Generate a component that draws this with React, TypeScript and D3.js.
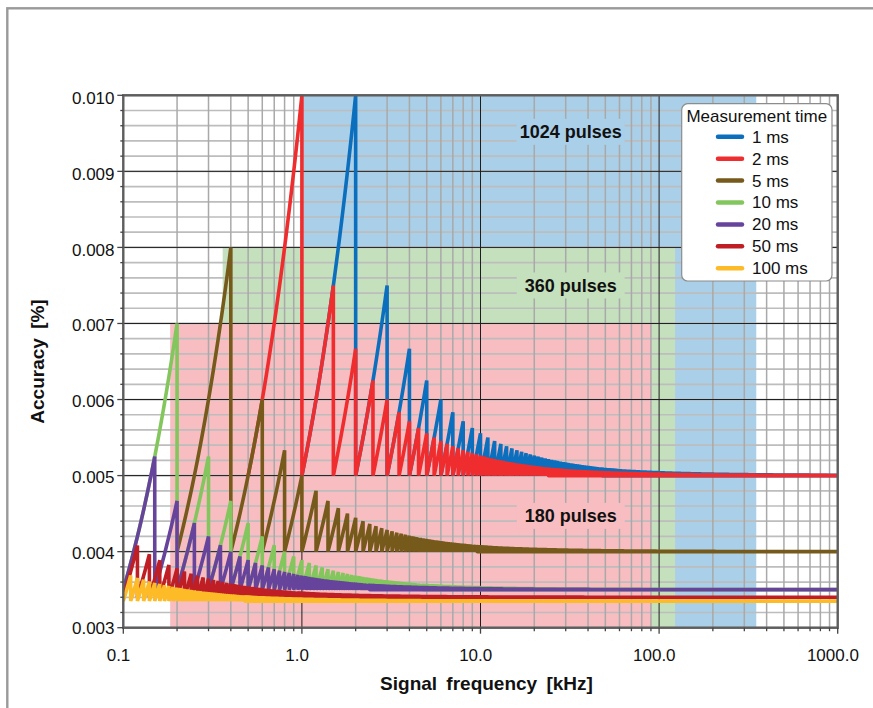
import React from 'react';
import * as d3 from 'd3';

// ---------- data ----------
const SERIES_NAMES = ['1 ms', '2 ms', '5 ms', '10 ms', '20 ms', '50 ms', '100 ms'];
const MEASUREMENT_TIME_MS = [1, 2, 5, 10, 20, 50, 100];
const BASE_ACCURACY = [0.005, 0.005, 0.004, 0.0035, 0.0035, 0.0034, 0.00335];
const START_FREQ_KHZ = [1.0, 0.5, 0.2, 0.1, 0.1, 0.1, 0.1];
const END_FREQ_KHZ = [1000, 1000, 1000, 1000, 1000, 1000, 1000];
const SERIES_COLORS = ['#0b6fbd', '#ef2d2f', '#765a1c', '#84c65e', '#66449c', '#c01e25', '#fcbb27'];

const REGION_NAMES = ['1024 pulses', '360 pulses', '180 pulses'];
const REGION_FREQ_FROM = [1.0, 0.36, 0.183];
const REGION_FREQ_TO = [350, 123, 91];
const REGION_ACC_TOP = [0.010, 0.008, 0.007];
const REGION_LABEL_FREQ = [32, 32, 32];
const REGION_LABEL_ACC = [0.00952, 0.0075, 0.00447];
const REGION_COLORS = ['#aacfe8', '#c4e0bd', '#f8bdc0'];

const X_TICKS = [0.1, 1, 10, 100, 1000];
const X_TICK_LABELS = ['0.1', '1.0', '10.0', '100.0', '1000.0'];
const Y_TICKS = [0.003, 0.004, 0.005, 0.006, 0.007, 0.008, 0.009, 0.010];
const Y_TICK_LABELS = ['0.003', '0.004', '0.005', '0.006', '0.007', '0.008', '0.009', '0.010'];

// ---------- layout ----------
const W = 873;
const H = 708;
const PL = 123.3, PR = 837.7, PT = 95.3, PB = 627.7;
const FONT = '"Liberation Sans", Arial, sans-serif';
const N_SWITCH = 60; // beyond this many periods the teeth merge into a band
const BAND_OVERLAP = 12;

const x = d3.scaleLog().domain([0.1, 1000]).range([PL, PR]);
const y = d3.scaleLinear().domain([0.003, 0.010]).range([PB, PT]);
const yLabel = d3.scaleLinear().domain([0.003, 0.010]).range([634.3, 104.3]);

// quantised-period accuracy: acc = base * fT / floor(fT)
function sawtooth(T: number, base: number, f0: number, f1: number) {
  const pts: [number, number][] = [];
  let n = Math.max(1, Math.floor(f0 * T + 1e-9));
  let f = f0;
  while (f < f1 - 1e-12 && n < N_SWITCH) {
    const fa = Math.max(n / T, f0);
    const fb = Math.min((n + 1) / T, f1);
    const k = Math.max(2, Math.ceil(30 / n));
    for (let i = 0; i <= k; i++) {
      const ff = fa + ((fb - fa) * i) / k;
      pts.push([ff, (base * ff * T) / n]);
    }
    if (fb < f1) pts.push([fb, base]);
    f = fb;
    n++;
  }
  const band: [number, number, number][] = [];
  if (f < f1) {
    const fs = Math.max(f0, (N_SWITCH - BAND_OVERLAP) / T);
    const steps = 220;
    const l0 = Math.log10(fs), l1 = Math.log10(f1);
    for (let i = 0; i <= steps; i++) {
      const ff = Math.pow(10, l0 + ((l1 - l0) * i) / steps);
      const p = ff * T;
      band.push([ff, base, base * (1 + 0.75 / (p - 1))]);
    }
  }
  return { pts, band };
}

const lineGen = d3
  .line<[number, number]>()
  .x((d) => x(d[0]))
  .y((d) => y(d[1]));
const areaGen = d3
  .area<[number, number, number]>()
  .x((d) => x(d[0]))
  .y0((d) => y(d[1]))
  .y1((d) => y(d[2]));

export default function App() {
  const series = MEASUREMENT_TIME_MS.map((T, i) => {
    const s = sawtooth(T, BASE_ACCURACY[i], START_FREQ_KHZ[i], END_FREQ_KHZ[i]);
    return { line: lineGen(s.pts) || '', area: s.band.length ? areaGen(s.band) || '' : '' };
  });

  const minorX: number[] = [];
  [0.1, 1, 10, 100].forEach((dec) => {
    for (let m = 2; m <= 9; m++) minorX.push(dec * m);
  });
  const minorY: number[] = [];
  for (let i = 0; i <= 35; i++) minorY.push(0.003 + i * 0.0002);

  const legendX = 681.7, legendY = 103.7, legendW = 150.3, legendH = 177.3;
  const rowY0 = 136.7, rowStep = 21.93;

  return (
    <svg
      width={W}
      height={H}
      style={{ position: 'absolute', left: 0, top: 0, background: '#fff' }}
      fontFamily={FONT}
    >
      <defs>
        <clipPath id="plotClip">
          <rect x={PL} y={PT} width={PR - PL} height={PB - PT} />
        </clipPath>
      </defs>
      {/* outer frame */}
      <rect x={7.3} y={8.3} width={900} height={760} fill="none" stroke="#9a9a9a" strokeWidth={2.4} />

      {/* regions */}
      {REGION_NAMES.map((nm, i) => (
        <rect
          key={'reg' + i}
          x={x(REGION_FREQ_FROM[i])}
          y={y(REGION_ACC_TOP[i])}
          width={x(REGION_FREQ_TO[i]) - x(REGION_FREQ_FROM[i])}
          height={y(0.003) - y(REGION_ACC_TOP[i])}
          fill={REGION_COLORS[i]}
        />
      ))}

      {/* minor grid */}
      {minorY.map((v, i) => (
        <line key={'my' + i} x1={PL} x2={PR} y1={y(v)} y2={y(v)} stroke="#bdbdbd" strokeWidth={1.7} />
      ))}
      {minorX.map((v, i) => (
        <line key={'mx' + i} x1={x(v)} x2={x(v)} y1={PT} y2={PB} stroke="#a9a9a9" strokeWidth={1.5} />
      ))}
      {/* major grid */}
      {Y_TICKS.map((v, i) => (
        <line key={'My' + i} x1={PL} x2={PR} y1={y(v)} y2={y(v)} stroke="#1e1e1e" strokeWidth={1} />
      ))}
      {X_TICKS.map((v, i) => (
        <line key={'Mx' + i} x1={x(v)} x2={x(v)} y1={PT} y2={PB} stroke="#1e1e1e" strokeWidth={1} />
      ))}

      {/* region labels */}
      {REGION_NAMES.map((nm, i) => {
        const cx = x(REGION_LABEL_FREQ[i]);
        const cy = y(REGION_LABEL_ACC[i]);
        return (
          <g key={'rl' + i}>
            <rect x={cx - 54} y={cy - 13} width={108} height={26} fill={REGION_COLORS[i]} />
            <text x={cx} y={cy + 6.3} textAnchor="middle" fontSize={18} fontWeight="bold" fill="#111">
              {nm}
            </text>
          </g>
        );
      })}

      {/* curves */}
      <g clipPath="url(#plotClip)">
        {series.map((s, i) => (
          <g key={'s' + i}>
            <path
              d={s.line}
              fill="none"
              stroke={SERIES_COLORS[i]}
              strokeWidth={3.6}
              strokeLinejoin="miter"
              strokeMiterlimit={3}
            />
            {s.area && (
              <path
                d={s.area}
                fill={SERIES_COLORS[i]}
                stroke={SERIES_COLORS[i]}
                strokeWidth={3.6}
                strokeLinejoin="round"
              />
            )}
          </g>
        ))}
      </g>

      {/* plot border */}
      <rect x={PL} y={PT} width={PR - PL} height={PB - PT} fill="none" stroke="#5e5e5e" strokeWidth={2.4} />

      {/* y ticks */}
      {minorY.map((v, i) => (
        <line key={'yt' + i} x1={PL - (i % 5 === 0 ? 6 : 3)} x2={PL} y1={y(v)} y2={y(v)} stroke="#444" strokeWidth={1.3} />
      ))}
      {Y_TICKS.map((v, i) => (
        <text key={'yl' + i} x={114.5} y={yLabel(v)} textAnchor="end" fontSize={17} fill="#111">
          {Y_TICK_LABELS[i]}
        </text>
      ))}
      {/* x ticks */}
      {minorX.map((v, i) => (
        <line key={'xt' + i} x1={x(v)} x2={x(v)} y1={PB} y2={PB + 3.5} stroke="#444" strokeWidth={1.3} />
      ))}
      {X_TICKS.map((v, i) => (
        <line key={'xT' + i} x1={x(v)} x2={x(v)} y1={PB} y2={PB + 6} stroke="#444" strokeWidth={1.3} />
      ))}
      {X_TICKS.map((v, i) => (
        <text key={'xl' + i} x={x(v) - 4.8} y={661} textAnchor="middle" fontSize={17} fill="#111">
          {X_TICK_LABELS[i]}
        </text>
      ))}

      {/* axis titles */}
      <text x={486.5} y={689.5} textAnchor="middle" fontSize={19} fontWeight="bold" wordSpacing={4} fill="#111">
        Signal frequency [kHz]
      </text>
      <text
        transform={`translate(43.5, ${(PT + PB) / 2}) rotate(-90)`}
        textAnchor="middle"
        fontSize={19}
        fontWeight="bold"
        wordSpacing={4}
        fill="#111"
      >
        Accuracy [%]
      </text>

      {/* legend */}
      <rect x={legendX} y={legendY} width={legendW} height={legendH} rx={6} fill="#fff" stroke="#8c8c8c" strokeWidth={1.2} />
      <text x={legendX + legendW / 2} y={121.7} textAnchor="middle" fontSize={17} fill="#111">
        Measurement time
      </text>
      {SERIES_NAMES.map((nm, i) => (
        <g key={'lg' + i}>
          <line
            x1={718}
            x2={742}
            y1={rowY0 + i * rowStep}
            y2={rowY0 + i * rowStep}
            stroke={SERIES_COLORS[i]}
            strokeWidth={4.5}
            strokeLinecap="round"
          />
          <text x={752} y={rowY0 + i * rowStep + 6} fontSize={17} fill="#111">
            {nm}
          </text>
        </g>
      ))}
    </svg>
  );
}
